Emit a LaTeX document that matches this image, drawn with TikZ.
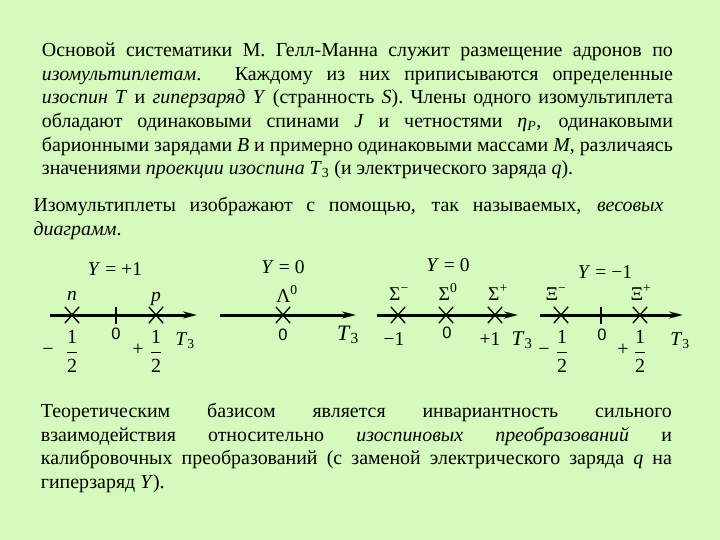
\documentclass[tikz,border=0pt]{standalone}
\usepackage{amsmath}
\usepackage{fontspec}
\setmainfont{Liberation Serif}
\newfontfamily\axisfont{Liberation Sans}
\usetikzlibrary{arrows.meta,positioning,shapes.misc}
\definecolor{slidegreen}{RGB}{213,250,190}
\tikzset{
    % paragraph of the slide
    para/.style={
           anchor=base west,
           inner sep=0pt,
           text width=631pt,
           align=justify,
           font=\fontsize{19.9}{23.6}\selectfont},
    % axis T3 with arrow
    axis/.style={
           -{Stealth[length=14pt,width=7pt]},
           line width=3pt},
    % particle on the axis
    xmark/.style={
           cross out,
           draw=black,
           line width=1.3pt,
           minimum width=13pt,
           minimum height=15pt,
           inner sep=0pt},
    % small labels
    lbl/.style={
           anchor=base,
           inner sep=0pt,
           font=\fontsize{19.5}{21}\selectfont},
    zerolbl/.style={
           anchor=base,
           inner sep=0pt,
           font=\axisfont\fontsize{16.5}{18}\selectfont},
    fraclbl/.style={
           anchor=base,
           inner sep=0pt,
           font=\fontsize{20}{22}\selectfont}
}
\newcommand{\half}{$\dfrac{\text{1}}{\text{2}}$}
\begin{document}
\begin{tikzpicture}[x=1pt,y=-1pt]
    \fill[slidegreen] (0,0) rectangle (720,540);
    \useasboundingbox (0,0) rectangle (720,540);

    % TEXT
    \node[para] (par1) at (41.7,56.7) {Основой систематики М. Гелл-Манна служит размещение адронов по\linebreak
        \textit{изомультиплетам}. Каждому из них приписываются определенные\linebreak
        \textit{изоспин T} и \textit{гиперзаряд Y} (странность \textit{S}). Члены одного изомультиплета\linebreak
        обладают одинаковыми спинами \textit{J} и четностями \textit{η}\textsubscript{\textit{P}}, одинаковыми\linebreak
        барионными зарядами \textit{B} и примерно одинаковыми массами \textit{M}, различаясь\linebreak
        значениями \textit{проекции изоспина T}\textsubscript{3} (и электрического заряда \textit{q}).};
    \node[para, text width=630pt] (par2) at (33.3,211.7) {Изомультиплеты изображают с помощью, так называемых, \textit{весовых}\linebreak
        \textit{диаграмм}.};
    \node[para] (par3) at (40.7,417.7) {Теоретическим базисом является инвариантность сильного\linebreak
        взаимодействия относительно \textit{изоспиновых преобразований} и\linebreak
        калибровочных преобразований (с заменой электрического заряда \textit{q} на\linebreak
        гиперзаряд \textit{Y}).};

    % AXES
    \coordinate (s1) at (50,315);  \coordinate (e1) at (197,315);
    \coordinate (s2) at (220,315); \coordinate (e2) at (356,315);
    \coordinate (s3) at (377,315); \coordinate (e3) at (518,315);
    \coordinate (s4) at (540,315); \coordinate (e4) at (683,315);
    \foreach \i in {1,...,4}
        \draw[axis] (s\i) -- (e\i);

    % ticks at zero
    \coordinate (z1) at (116,315);
    \coordinate (z4) at (601,315);
    \foreach \z in {z1,z4}
        \draw[line width=1.2pt] ([yshift=-9pt]\z) -- ([yshift=8pt]\z);

    % Y = +1 : nucleons
    \node[lbl] (y1) at (115,275) {\textit{Y} = +1};
    \node[xmark] (n) at (72,315) {};
    \node[xmark] (p) at (156,315) {};
    \node[lbl] (nlbl) at (72,300) {\textit{n}};
    \node[lbl] (plbl) at (156,301) {\textit{p}};
    \node[zerolbl] (o1) at (116,339) {0};
    \node[fraclbl] (fn) at (72,358) {\half};
    \node[fraclbl] (fp) at (156,358) {\half};
    \node[fraclbl] at (48,355) {−};
    \node[fraclbl] at (138,355) {+};
    \node[lbl] (t1) at (185,345) {\textit{T}\textsubscript{3}};

    % Y = 0 : lambda
    \node[lbl] (y2) at (283,273) {\textit{Y} = 0};
    \node[xmark] (lam) at (283,315) {};
    \node[lbl] (lamlbl) at (287,302) {Λ\textsuperscript{0}};
    \node[zerolbl] (o2) at (283,340) {0};
    \node[lbl, font=\fontsize{22}{24}\selectfont] (t2) at (348,340) {\textit{T}\textsubscript{3}};

    % Y = 0 : sigmas
    \node[lbl] (y3) at (448,271) {\textit{Y} = 0};
    \node[xmark] (sm) at (398,315) {};
    \node[xmark] (s0) at (446,315) {};
    \node[xmark] (sp) at (495,315) {};
    \node[lbl] at (399,300) {Σ\textsuperscript{−}};
    \node[lbl] at (448,300) {Σ\textsuperscript{0}};
    \node[lbl] at (498,300) {Σ\textsuperscript{+}};
    \node[lbl] at (394,345) {−1};
    \node[zerolbl] (o3) at (447,338) {0};
    \node[lbl] at (490,345) {+1};
    \node[lbl, font=\fontsize{21}{23}\selectfont] (t3) at (522,345) {\textit{T}\textsubscript{3}};

    % Y = -1 : cascades
    \node[lbl] (y4) at (605,278) {\textit{Y} = −1};
    \node[xmark] (xm) at (561,315) {};
    \node[xmark] (xp) at (640,315) {};
    \node[lbl] at (556,300) {Ξ\textsuperscript{−}};
    \node[lbl] at (641,300) {Ξ\textsuperscript{+}};
    \node[zerolbl] (o4) at (602,340) {0};
    \node[fraclbl] (fxm) at (562,358) {\half};
    \node[fraclbl] (fxp) at (640,358) {\half};
    \node[fraclbl] at (544,355) {−};
    \node[fraclbl] at (623,355) {+};
    \node[lbl] (t4) at (680,345) {\textit{T}\textsubscript{3}};
\end{tikzpicture}
\end{document}
